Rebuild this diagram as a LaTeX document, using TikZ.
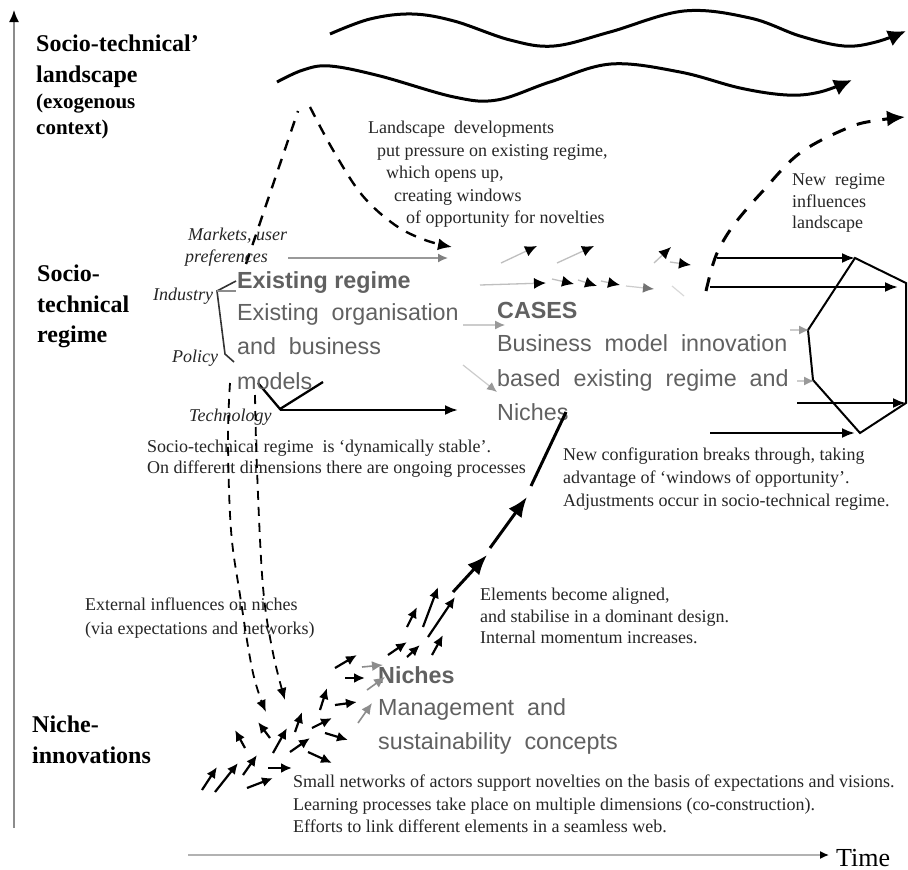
\documentclass[tikz,border=0pt]{standalone}
\usepackage{fontspec}
\setmainfont{Liberation Serif}
\newfontfamily\sansf{Liberation Sans}
\usetikzlibrary{arrows.meta}
\begin{document}
\begin{tikzpicture}[x=1pt,y=-1pt,
  txt/.style={anchor=base west, inner sep=0pt, text=black!85, font=\fontsize{18}{21}\selectfont},
  ital/.style={anchor=base west, inner sep=0pt, text=black!85, font=\fontsize{18}{21}\selectfont\itshape},
  headA/.style={anchor=base west, inner sep=0pt, font=\fontsize{24}{28}\selectfont\bfseries},
  headB/.style={anchor=base west, inner sep=0pt, font=\fontsize{21}{25}\selectfont\bfseries},
  gtxt/.style={anchor=base west, inner sep=0pt, text=black!62, font=\fontsize{23.3}{27}\selectfont\sansf},
  gbold/.style={anchor=base west, inner sep=0pt, text=black!62, font=\fontsize{23.3}{27}\selectfont\sansf\bfseries},
  wave/.style={line width=3pt, -{Latex[length=18pt,width=17pt]}},
  axisline/.style={draw=black!45, line width=1.6pt},
  dashA/.style={line width=2.4pt, dash pattern=on 11pt off 9pt, -{Latex[length=14pt,width=12pt]}},
  dashB/.style={line width=1.8pt, dash pattern=on 9pt off 7pt, -{Latex[length=12pt,width=10pt]}},
  dashC/.style={line width=3pt, dash pattern=on 14pt off 12pt, -{Latex[length=18pt,width=16pt]}},
  narr/.style={line width=2.2pt, -{Latex[length=11pt,width=10pt]}},
  garr/.style={draw=black!45, line width=1.6pt, -{Latex[length=11pt,width=10pt]}},
  rarr/.style={draw=black!25, line width=1.3pt, -{Latex[length=12pt,width=11pt,color=black]}},
  harr/.style={line width=2.3pt, -{Latex[length=13pt,width=10pt]}},
  hex/.style={line width=2pt},
  bigarr/.style={line width=3pt, -{Latex[length=20pt,width=16pt]}}
]
\useasboundingbox (0,0) rectangle (908,870);
\fill[white] (0,0) rectangle (908,870);

% axes
\draw[axisline, -{Latex[length=12pt,width=10pt,color=black]}] (14,828) -- (14,10);
\draw[draw=black!30, line width=1.4pt, -{Latex[length=9pt,width=8pt,color=black]}] (188,855) -- (829,855);
\node[anchor=base west, inner sep=0pt, font=\fontsize{26}{30}\selectfont] (time) at (836,866) {Time};

% level headings
\node[headA] (h1) at (36,51) {Socio-technical'};
\node[headA] (h2) at (36,82) {landscape};
\node[headB] (h3) at (36,108) {(exogenous};
\node[headB] (h4) at (36,134) {context)};
\node[headA] (h5) at (37,281) {Socio-};
\node[headA] (h6) at (37,312) {technical};
\node[headA] (h7) at (37,342) {regime};
\node[headA] (h8) at (32,732) {Niche-};
\node[headA] (h9) at (32,763) {innovations};

% landscape waves
\draw[wave] plot[smooth, tension=0.6] coordinates {(330,34) (370,19) (412,14) (454,21) (510,40) (554,46) (610,32) (684,11) (750,18) (800,36) (844,46) (876,42) (906,31)};
\draw[wave] plot[smooth, tension=0.6] coordinates {(277,82) (303,70) (330,66) (380,76) (454,97) (497,100) (550,82) (611,64) (680,72) (740,88) (787,95) (820,92) (852,80)};

% landscape pressure (dashed)
\draw[line width=2.4pt, dash pattern=on 11pt off 9pt] (246,264) -- (298,111);
\draw[dashA] plot[smooth, tension=0.6] coordinates {(310,107) (333,150) (362,195) (395,225) (425,240) (452,247)};

\node[txt] (l1) at (368,133) {Landscape\ \ developments};
\node[txt] (l2) at (377,156) {put pressure on existing regime,};
\node[txt] (l3) at (386,178) {which opens up,};
\node[txt] (l4) at (394,201) {creating windows};
\node[txt] (l5) at (406,223) {of opportunity for novelties};

\node[txt] (nr1) at (792,185) {New\ \ regime};
\node[txt] (nr2) at (792,207) {influences};
\node[txt] (nr3) at (792,228) {landscape};

% regime left structure
\node[ital] (mk1) at (188,240) {Markets, user};
\node[ital] (mk2) at (185,262) {preferences};
\node[ital] (ind) at (153,300) {Industry};
\node[ital] (pol) at (172,362) {Policy};
\node[ital] (tec) at (189,421) {Technology};

\draw[draw=black!40, line width=1.6pt, -{Latex[length=10pt,width=9pt,color=black!50]}] (288,258) -- (448,258);
\draw[line width=1.6pt, black!80] (236,281) -- (217,291) -- (225,354) -- (234,362);
\draw[draw=black!45, line width=1.4pt] (217,291) -- (236,291);
\draw[line width=2.3pt] (258,383) -- (280,409) -- (323,382);
\draw[harr] (280,410) -- (458,410);

% regime small arrows
\draw[rarr] (501,263) -- (537,246);
\draw[rarr] (557,263) -- (594,246);
\draw[rarr] (654,263) -- (671,247);
\draw[rarr] (670,262) -- (691,265);
\draw[rarr] (480,285) -- (546,283);
\draw[rarr] (552,279) -- (574,284);
\draw[rarr] (578,280) -- (597,286);
\draw[rarr] (601,281) -- (620,285);
\draw[draw=black!20, line width=1.2pt, -{Latex[length=11pt,width=10pt,color=black!55]}] (626,286) -- (654,289);
\draw[draw=black!15, line width=1.2pt] (672,286) -- (684,296);
\draw[draw=black!20, line width=1.2pt, -{Latex[length=10pt,width=9pt,color=black!40]}] (463,325) -- (505,325);
\draw[draw=black!20, line width=1.2pt, -{Latex[length=10pt,width=9pt,color=black!40]}] (463,365) -- (497,392);

% text boxes (grey)
\node[gbold] (er1) at (237,288) {Existing regime};
\node[gtxt] (er2) at (237,320) {Existing\ \ organisation};
\node[gtxt] (er3) at (237,354) {and\ \ business};
\node[gtxt] (er4) at (237,389) {models};

\node[gbold] (c1) at (497,318) {CASES};
\node[gtxt] (c2) at (497,351) {Business\ \ model\ \ innovation};
\node[gtxt] (c3) at (497,386) {based\ \ existing\ \ regime\ \ and};
\node[gtxt] (c4) at (497,420) {Niches};

\node[gbold] (n1) at (378,683) {Niches};
\node[gtxt] (n2) at (378,715) {Management\ \ and};
\node[gtxt] (n3) at (378,749) {sustainability\ \ concepts};

% regime right: new regime
\draw[dashC] plot[smooth, tension=0.6] coordinates {(706,291) (713,264) (721,245) (736,222) (762,192) (800,153) (850,127) (880,120) (905,117)};
\draw[harr] (717,258) -- (855,258);
\draw[harr] (710,287) -- (898,287);
\draw[harr] (797,403) -- (906,403);
\draw[harr] (710,433) -- (855,433);
\draw[hex] (855,258) -- (808,330) -- (813,380) -- (860,433) -- (906,403) -- (906,283) -- cycle;
\draw[draw=black!20, line width=1.2pt, -{Latex[length=10pt,width=9pt,color=black!40]}] (790,330) -- (809,330);
\draw[draw=black!20, line width=1.2pt, -{Latex[length=10pt,width=9pt,color=black!40]}] (797,381) -- (814,381);

% regime texts
\node[txt] (st1) at (147,452) {Socio-technical regime\ \ is `dynamically stable'.};
\node[txt] (st2) at (147,473) {On different dimensions there are ongoing processes};
\node[txt] (nc1) at (563,460) {New configuration breaks through, taking};
\node[txt] (nc2) at (563,483) {advantage of `windows of opportunity'.};
\node[txt] (nc3) at (563,506) {Adjustments occur in socio-technical regime.};

% external influences
\node[txt] (ex1) at (85,610) {External influences on niches};
\node[txt] (ex2) at (85,634) {(via expectations and networks)};
\draw[dashB] plot[smooth, tension=0.6] coordinates {(230,383) (228,440) (231,530) (240,595) (253,673) (266,712)};
\draw[dashB] plot[smooth, tension=0.6] coordinates {(255,395) (257,470) (263,587) (273,653) (285,700)};

% niche arrows
\foreach \a/\b/\c/\d in {202/790/217/767, 215/792/238/763, 243/775/257/755, 247/788/273/778, 268/768/292/768,
  245/748/235/730, 270/738/258/722, 273/753/287/728, 290/752/310/738, 308/752/332/763, 295/732/302/712,
  312/728/332/718, 325/733/348/740, 320/710/327/688, 335/705/357/702, 335/668/357/655, 345/678/365/678,
  388/655/407/642, 407/657/420/645, 432/655/443/635, 407/627/417/607, 423/627/438/587, 428/637/455/597}
  \draw[narr] (\a,\b) -- (\c,\d);
\draw[garr] (358,723) -- (372,703);
\draw[garr] (362,667) -- (383,665);
\draw[garr] (367,690) -- (385,677);

% breakthrough arrow
\draw[bigarr] (453,592) -- (487,555);
\draw[bigarr] (490,548) -- (527,497);
\draw[line width=3pt] (531,486) -- (566,412);

\node[txt] (el1) at (480,600) {Elements become aligned,};
\node[txt] (el2) at (480,622) {and stabilise in a dominant design.};
\node[txt] (el3) at (480,643) {Internal momentum increases.};

\node[txt] (sn1) at (293,787) {Small networks of actors support novelties on the basis of expectations and visions.};
\node[txt] (sn2) at (293,810) {Learning processes take place on multiple dimensions (co-construction).};
\node[txt] (sn3) at (293,832) {Efforts to link different elements in a seamless web.};
\end{tikzpicture}
\end{document}
